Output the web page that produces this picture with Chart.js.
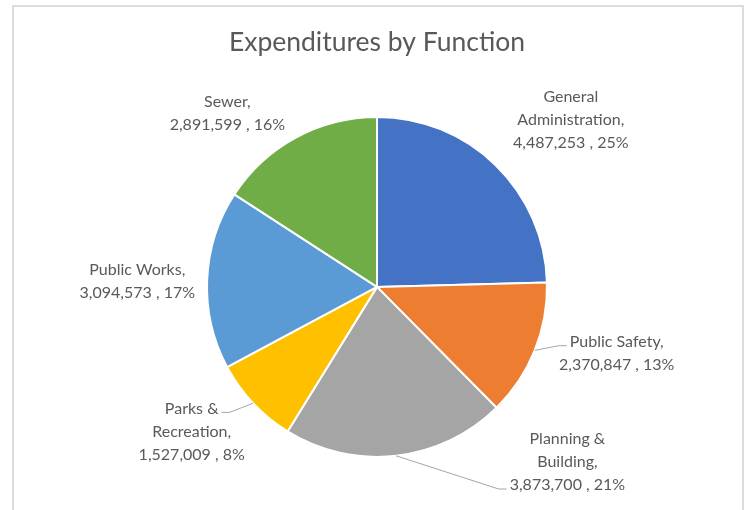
<!DOCTYPE html>
<html>
<head>
<meta charset="utf-8">
<title>Expenditures by Function</title>
<script src="https://cdn.jsdelivr.net/npm/chart.js@4.4.1/dist/chart.umd.min.js"></script>
<style>
  html, body { margin: 0; padding: 0; background: #fff; }
  canvas { display: block; }
</style>
</head>
<body>
<canvas id="myChart" width="745" height="510"></canvas>
<script>
// categories (\n = where the label wraps)
const categories = [
  'General\nAdministration',
  'Public Safety',
  'Planning &\nBuilding',
  'Parks &\nRecreation',
  'Public Works',
  'Sewer'
];
const spending = [4487253, 2370847, 3873700, 1527009, 3094573, 2891599];
const sliceColors = ['#4472C4', '#ED7D31', '#A5A5A5', '#FFC000', '#5B9BD5', '#70AD47'];

// where each label block sits, relative to the pie centre (in radii)
const labelPos = [
  [1.14, -0.98],
  [1.41, 0.39],
  [1.12, 1.03],
  [-1.09, 0.85],
  [-1.41, -0.03],
  [-0.88, -1.02]
];
// leader lines: which text line they meet and on which side
const leaders = [null, { line: 0, side: 'left' }, { line: 2, side: 'left' }, { line: 0, side: 'right' }, null, null];

const total = spending.reduce((a, b) => a + b, 0);

const frame = {
  id: 'frame',
  beforeDraw(chart) {
    const c = chart.ctx;
    c.save();
    c.fillStyle = '#fff';
    c.fillRect(0, 0, chart.width, chart.height);
    c.strokeStyle = '#dcdcdc';
    c.lineWidth = 2;
    c.strokeRect(13, 6, 730, 520);
    c.restore();
  }
};

const sliceLabels = {
  id: 'sliceLabels',
  afterDatasetsDraw(chart) {
    const c = chart.ctx;
    const arcs = chart.getDatasetMeta(0).data;
    const lh = 23;
    c.save();
    c.font = '16px Lato';
    c.fillStyle = '#595959';
    c.textAlign = 'center';
    c.textBaseline = 'middle';
    arcs.forEach((arc, i) => {
      const r = arc.outerRadius;
      const cx = arc.x + labelPos[i][0] * r;
      const cy = arc.y + labelPos[i][1] * r;
      const pct = Math.round(spending[i] / total * 100);
      const lines = categories[i].split('\n');
      lines[lines.length - 1] += ',';
      lines.push(spending[i].toLocaleString('en-US') + ' , ' + pct + '%');
      const top = cy - (lines.length - 1) / 2 * lh;
      lines.forEach((t, k) => c.fillText(t, cx, top + k * lh));

      const ld = leaders[i];
      if (ld) {
        const mid = (arc.startAngle + arc.endAngle) / 2;
        const ex = arc.x + Math.cos(mid) * r;
        const ey = arc.y + Math.sin(mid) * r;
        const w = c.measureText(lines[ld.line]).width;
        const ly = top + ld.line * lh + 4;
        const endX = ld.side === 'left' ? cx - w / 2 - 3 : cx + w / 2 + 3;
        const elbowX = ld.side === 'left' ? endX - 8 : endX + 8;
        c.beginPath();
        c.strokeStyle = '#a6a6a6';
        c.lineWidth = 1;
        c.moveTo(ex, ey);
        c.lineTo(elbowX, ly);
        c.lineTo(endX, ly);
        c.stroke();
      }
    });
    c.restore();
  }
};

const ctx = document.getElementById('myChart');

new Chart(ctx, {
  type: 'pie',
  data: {
    labels: categories.map(s => s.replace('\n', ' ')),
    datasets: [{
      data: spending,
      backgroundColor: sliceColors,
      borderColor: '#ffffff',
      borderWidth: 2
    }]
  },
  options: {
    responsive: false,
    animation: false,
    layout: {
      padding: { left: 206, right: 197, top: 0, bottom: 51 }
    },
    plugins: {
      legend: { display: false },
      tooltip: { enabled: false },
      title: {
        display: true,
        text: 'Expenditures by Function',
        color: '#595959',
        font: { family: 'Lato', size: 26.5, weight: 'normal' },
        padding: { top: 27, bottom: 56 }
      }
    }
  },
  plugins: [frame, sliceLabels]
});
</script>
</body>
</html>
